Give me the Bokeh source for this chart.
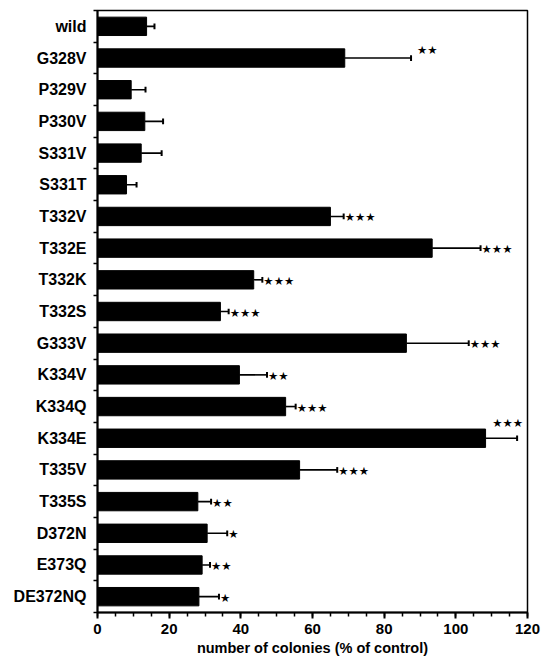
import numpy as np
from bokeh.plotting import figure
from bokeh.models import Range1d, FixedTicker, ColumnDataSource
from bokeh.core.properties import value
from bokeh.embed import file_html
from bokeh.resources import INLINE

categories = ["wild", "G328V", "P329V", "P330V", "S331V", "S331T", "T332V", "T332E",
              "T332K", "T332S", "G333V", "K334V", "K334Q", "K334E", "T335V", "T335S",
              "D372N", "E373Q", "DE372NQ"]
colonies = [13.7, 69.0, 9.4, 13.2, 12.2, 8.1, 65.0, 93.4, 43.6, 34.3, 86.2, 39.6,
            52.5, 108.3, 56.4, 28.0, 30.6, 29.2, 28.3]
errors = [2.2, 18.5, 4.0, 5.1, 5.7, 2.8, 3.7, 13.5, 2.4, 2.3, 17.4, 7.7, 2.8, 8.8,
          10.5, 3.7, 5.6, 2.2, 5.6]
signif = ["", "**", "", "", "", "", "***", "***", "***", "***", "***", "**", "***",
          "***", "***", "**", "*", "**", "*"]
x_ticks = [0, 20, 40, 60, 80, 100, 120]
x_minor = list(range(0, 121, 5))

n = len(categories)
ypos = np.arange(n) + 0.5
vals = np.array(colonies)
upper = vals + np.array(errors)
stars = [s.replace("*", "\u2605") for s in signif]

src = ColumnDataSource(dict(y=ypos, v=vals, up=upper, stars=stars,
                            cap0=ypos - 0.09, cap1=ypos + 0.09))

p = figure(width=541, height=659, output_backend="svg", toolbar_location=None,
           x_range=Range1d(0, 120), y_range=Range1d(n, 0),
           min_border_left=97, min_border_right=14, min_border_top=10, min_border_bottom=47)

p.hbar(y="y", left=0, right="v", height=0.58, source=src, fill_color="black", line_color="black")
p.segment(x0="v", y0="y", x1="up", y1="y", source=src, line_color="black", line_width=1.6)
p.segment(x0="up", y0="cap0", x1="up", y1="cap1", source=src, line_color="black", line_width=2)

# significance stars
star_font = value("DejaVu Sans")
normal_idx = [i for i in range(n) if signif[i] and categories[i] not in ("G328V", "K334E")]
ssrc = ColumnDataSource(dict(x=upper[normal_idx], y=ypos[normal_idx], t=[stars[i] for i in normal_idx]))
p.text(x="x", y="y", text="t", source=ssrc, x_offset=1, y_offset=1,
       text_align="left", text_baseline="middle", text_font=star_font,
       text_font_size="11.5px", text_color="black")
i1 = categories.index("G328V")
p.text(x=[upper[i1]], y=[ypos[i1]], text=[stars[i1]], x_offset=6, y_offset=-8,
       text_align="left", text_baseline="middle", text_font=star_font,
       text_font_size="11.5px", text_color="black")
i2 = categories.index("K334E")
p.text(x=[upper[i2]], y=[ypos[i2]], text=[stars[i2]], x_offset=6, y_offset=-15,
       text_align="right", text_baseline="middle", text_font=star_font,
       text_font_size="11.5px", text_color="black")

p.xgrid.visible = False
p.ygrid.visible = False
p.outline_line_color = "black"
p.outline_line_width = 1.5

xa = p.xaxis[0]
xa.ticker = FixedTicker(ticks=x_ticks, minor_ticks=x_minor)
xa.axis_line_width = 2
xa.major_tick_line_width = 2
xa.minor_tick_line_width = 1.5
xa.major_tick_out = 6
xa.major_tick_in = 0
xa.minor_tick_out = 4
xa.minor_tick_in = 0
xa.major_label_text_font = "Liberation Sans"
xa.major_label_text_font_style = "bold"
xa.major_label_text_font_size = "15px"
xa.major_label_text_color = "black"
xa.major_label_standoff = 5
xa.axis_label = "number of colonies (% of control)"
xa.axis_label_text_font = "Liberation Sans"
xa.axis_label_text_font_style = "bold"
xa.axis_label_text_font_size = "14.5px"
xa.axis_label_text_color = "black"
xa.axis_label_standoff = 3

ya = p.yaxis[0]
ya.ticker = FixedTicker(ticks=list(ypos), minor_ticks=list(range(n + 1)))
ya.major_label_overrides = {float(y): c for y, c in zip(ypos, categories)}
ya.axis_line_width = 2
ya.major_tick_out = 0
ya.major_tick_in = 0
ya.minor_tick_out = 4
ya.minor_tick_in = 0
ya.minor_tick_line_width = 1.5
ya.major_label_text_font = "Liberation Sans"
ya.major_label_text_font_style = "bold"
ya.major_label_text_font_size = "16px"
ya.major_label_text_color = "black"
ya.major_label_standoff = 7

open("out.html", "w").write(file_html(p, INLINE))
